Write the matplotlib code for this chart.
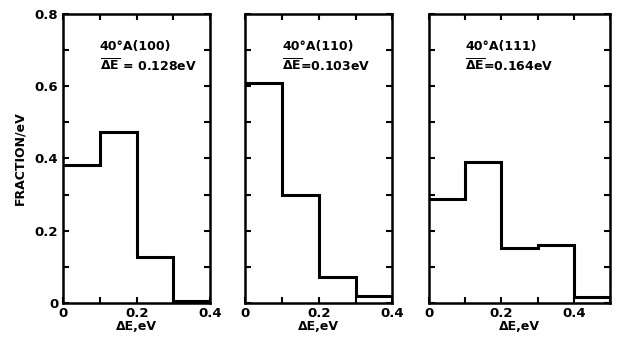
import numpy as np
import matplotlib
matplotlib.use("Agg")
import matplotlib.pyplot as plt
from matplotlib.ticker import MultipleLocator, FixedLocator, FixedFormatter

plt.rcParams['font.family'] = ['DejaVu Sans']
plt.rcParams['mathtext.fontset'] = 'dejavusans'

# histogram data
edges_100 = [0.0, 0.1, 0.2, 0.3, 0.4]
frac_100 = [0.382, 0.474, 0.128, 0.006]
edges_110 = [0.0, 0.1, 0.2, 0.3, 0.4]
frac_110 = [0.608, 0.299, 0.073, 0.020]
edges_111 = [0.0, 0.1, 0.2, 0.3, 0.4, 0.5]
frac_111 = [0.287, 0.391, 0.151, 0.160, 0.017]

titles = ["40°A(100)", "40°A(110)", "40°A(111)"]
means = [" = 0.128eV", "=0.103eV", "=0.164eV"]
xmax = [0.4, 0.4, 0.5]
xticklabels = [["0", "0.2", "0.4"], ["0", "0.2", "0.4"], ["0", "0.2", "0.4"]]

fig = plt.figure(figsize=(6.24, 3.39), dpi=100)
pos = [[0.101, 0.106, 0.236, 0.853],
       [0.393, 0.106, 0.236, 0.853],
       [0.6875, 0.106, 0.290, 0.853]]

data = [(edges_100, frac_100), (edges_110, frac_110), (edges_111, frac_111)]

for i in range(3):
    ax = fig.add_axes(pos[i])
    edges, vals = data[i]
    ax.stairs(vals, edges, baseline=None, color='black', linewidth=2.2)
    ax.set_xlim(0, xmax[i])
    ax.set_ylim(0, 0.8)
    for s in ax.spines.values():
        s.set_linewidth(1.8)

    xt = [0, 0.2, 0.4]
    ax.xaxis.set_major_locator(FixedLocator(xt))
    ax.xaxis.set_major_formatter(FixedFormatter(xticklabels[i]))
    ax.xaxis.set_minor_locator(MultipleLocator(0.1))
    ax.yaxis.set_major_locator(FixedLocator([0, 0.2, 0.4, 0.6, 0.8]))
    ax.yaxis.set_major_formatter(FixedFormatter(["0", "0.2", "0.4", "0.6", "0.8"]))
    ax.yaxis.set_minor_locator(MultipleLocator(0.1))
    ax.tick_params(which='both', direction='in', top=True, right=True,
                   length=4.5, width=1.5, labelsize=9.5)
    ax.tick_params(axis='x', pad=3)
    for lab in ax.get_xticklabels() + ax.get_yticklabels():
        lab.set_fontweight('bold')
    if i > 0:
        ax.tick_params(axis='y', labelleft=False)
    else:
        ax.set_ylabel("FRACTION/eV", fontsize=9, fontweight='bold', labelpad=6)

    ax.set_xlabel("ΔE,eV", fontsize=9, fontweight='bold', labelpad=0)
    ax.text(0.1, 0.71, titles[i], fontsize=9, fontweight='bold', va='center')
    ax.text(0.1, 0.655, r"$\overline{\mathbf{\Delta E}}$" + means[i], fontsize=9,
            fontweight='bold', va='center')

fig.savefig("out.png", dpi=100)
